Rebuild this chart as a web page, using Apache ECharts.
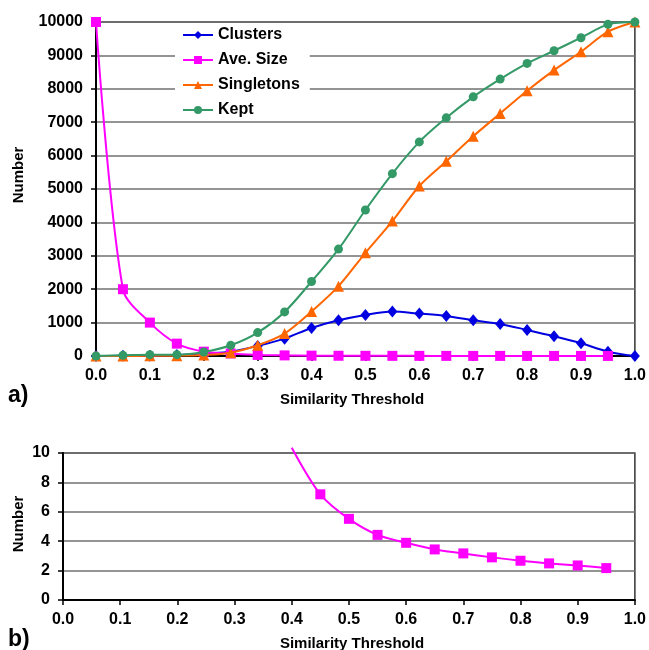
<!DOCTYPE html>
<html>
<head>
<meta charset="utf-8">
<script src="https://cdn.jsdelivr.net/npm/echarts@6/dist/echarts.min.js"></script>
<style>
html,body{margin:0;padding:0;background:#fff;}
#c{width:649px;height:650px;}
</style>
</head>
<body>
<div id="c"></div>
<script>
// ---- data ----
const thresholds = [0.00,0.05,0.10,0.15,0.20,0.25,0.30,0.35,0.40,0.45,0.50,0.55,0.60,0.65,0.70,0.75,0.80,0.85,0.90,0.95,1.00];
const clusters   = [1,5,10,29,80,130,300,520,840,1070,1230,1330,1270,1200,1070,960,780,590,380,130,0];
const aveSize    = [10000,2000,1000,370,130,76,32,18,10.36,7.19,5.52,4.43,3.89,3.44,3.17,2.90,2.67,2.49,2.35,2.17];
const singletons = [0,0,5,10,30,100,320,670,1330,2090,3090,4040,5090,5830,6580,7260,7940,8560,9110,9710,10000];
const kept       = [0,20,40,40,120,320,700,1320,2230,3200,4370,5460,6410,7130,7760,8290,8760,9140,9530,9930,10000];
const seriesNames = ['Clusters','Ave. Size','Singletons','Kept'];
const bottomStart = 8; // panel b) starts at threshold 0.4

const FONT = 'Arial, "Liberation Sans", sans-serif';
const pairs = (ys) => ys.map((y, i) => [thresholds[i], y]);

const chart = echarts.init(document.getElementById('c'), null, {renderer:'canvas'});

function xAxisCfg(gridIndex){
  return {
    type:'value', gridIndex, min:0, max:1, interval:0.1,
    axisLine:{show:true, onZero:false, lineStyle:{color:'#000', width:2}},
    axisTick:{show:true, length:5, lineStyle:{color:'#000', width:1.5}},
    axisLabel:{formatter:v=>v.toFixed(1), color:'#000', fontFamily:FONT, fontWeight:'bold', fontSize:16, margin:12},
    splitLine:{show:false}
  };
}
function yAxisCfg(gridIndex, max, interval){
  return {
    type:'value', gridIndex, min:0, max, interval,
    axisLine:{show:true, lineStyle:{color:'#000', width:2}},
    axisTick:{show:true, length:5, lineStyle:{color:'#000', width:1.5}},
    axisLabel:{formatter:v=>String(v), color:'#000', fontFamily:FONT, fontWeight:'bold', fontSize:16, margin:13},
    splitLine:{show:true, lineStyle:{color:'#707070', width:1.5}}
  };
}

const bottomData = aveSize.slice(bottomStart).map((y, i) => {
  const item = {value:[thresholds[bottomStart + i], y]};
  if (y > 10) item.symbol = 'none';
  return item;
});

const option = {
  animation:false,
  backgroundColor:'#fff',
  grid:[
    {left:96, right:11, top:22, height:334, show:true, borderColor:'#333', borderWidth:1.5, backgroundColor:'transparent'},
    {left:63, right:11, top:453, height:147, show:true, borderColor:'#333', borderWidth:1.5, backgroundColor:'transparent'}
  ],
  xAxis:[xAxisCfg(0), xAxisCfg(1)],
  yAxis:[yAxisCfg(0, 10000, 1000), yAxisCfg(1, 10, 2)],
  legend:{
    data:seriesNames,
    orient:'vertical', left:175, top:23,
    padding:[4,10,2,7], itemGap:9, itemWidth:30, itemHeight:10,
    backgroundColor:'#fff',
    textStyle:{fontFamily:FONT, fontWeight:'bold', fontSize:16, color:'#000', lineHeight:16}
  },
  series:[
    {name:seriesNames[0], type:'line', xAxisIndex:0, yAxisIndex:0, data:pairs(clusters), smooth:0.3,
     symbol:'diamond', symbolSize:[10,12], color:'#0000e0', lineStyle:{width:2}, z:2},
    {name:seriesNames[1], type:'line', xAxisIndex:0, yAxisIndex:0, data:pairs(aveSize), smooth:0.3,
     symbol:'rect', symbolSize:10, color:'#ff00ff', lineStyle:{width:2}, z:3},
    {name:seriesNames[2], type:'line', xAxisIndex:0, yAxisIndex:0, data:pairs(singletons), smooth:0.3,
     symbol:'triangle', symbolSize:11, color:'#ff6600', lineStyle:{width:2}, z:4},
    {name:seriesNames[3], type:'line', xAxisIndex:0, yAxisIndex:0, data:pairs(kept), smooth:0.3,
     symbol:'circle', symbolSize:9, color:'#339966', lineStyle:{width:2}, z:5},
    {name:'Ave. Size (b)', type:'line', xAxisIndex:1, yAxisIndex:1, data:bottomData, smooth:0.3, clip:false,
     symbol:'rect', symbolSize:10, color:'#ff00ff', lineStyle:{width:2}, z:3}
  ],
  graphic:[
    {type:'text', x:19, y:175, rotation:Math.PI/2, style:{text:'Number', font:'bold 15px '+FONT, fill:'#000', align:'center', verticalAlign:'middle'}},
    {type:'text', x:19, y:524, rotation:Math.PI/2, style:{text:'Number', font:'bold 15px '+FONT, fill:'#000', align:'center', verticalAlign:'middle'}},
    {type:'text', x:352, y:400, style:{text:'Similarity Threshold', font:'bold 15px '+FONT, fill:'#000', align:'center', verticalAlign:'middle'}},
    {type:'text', x:352, y:644, style:{text:'Similarity Threshold', font:'bold 15px '+FONT, fill:'#000', align:'center', verticalAlign:'middle'}},
    {type:'text', x:8, y:396, style:{text:'a)', font:'bold 23px '+FONT, fill:'#000', align:'left', verticalAlign:'middle'}},
    {type:'text', x:8, y:640, style:{text:'b)', font:'bold 23px '+FONT, fill:'#000', align:'left', verticalAlign:'middle'}}
  ]
};
chart.setOption(option);
</script>
</body>
</html>
